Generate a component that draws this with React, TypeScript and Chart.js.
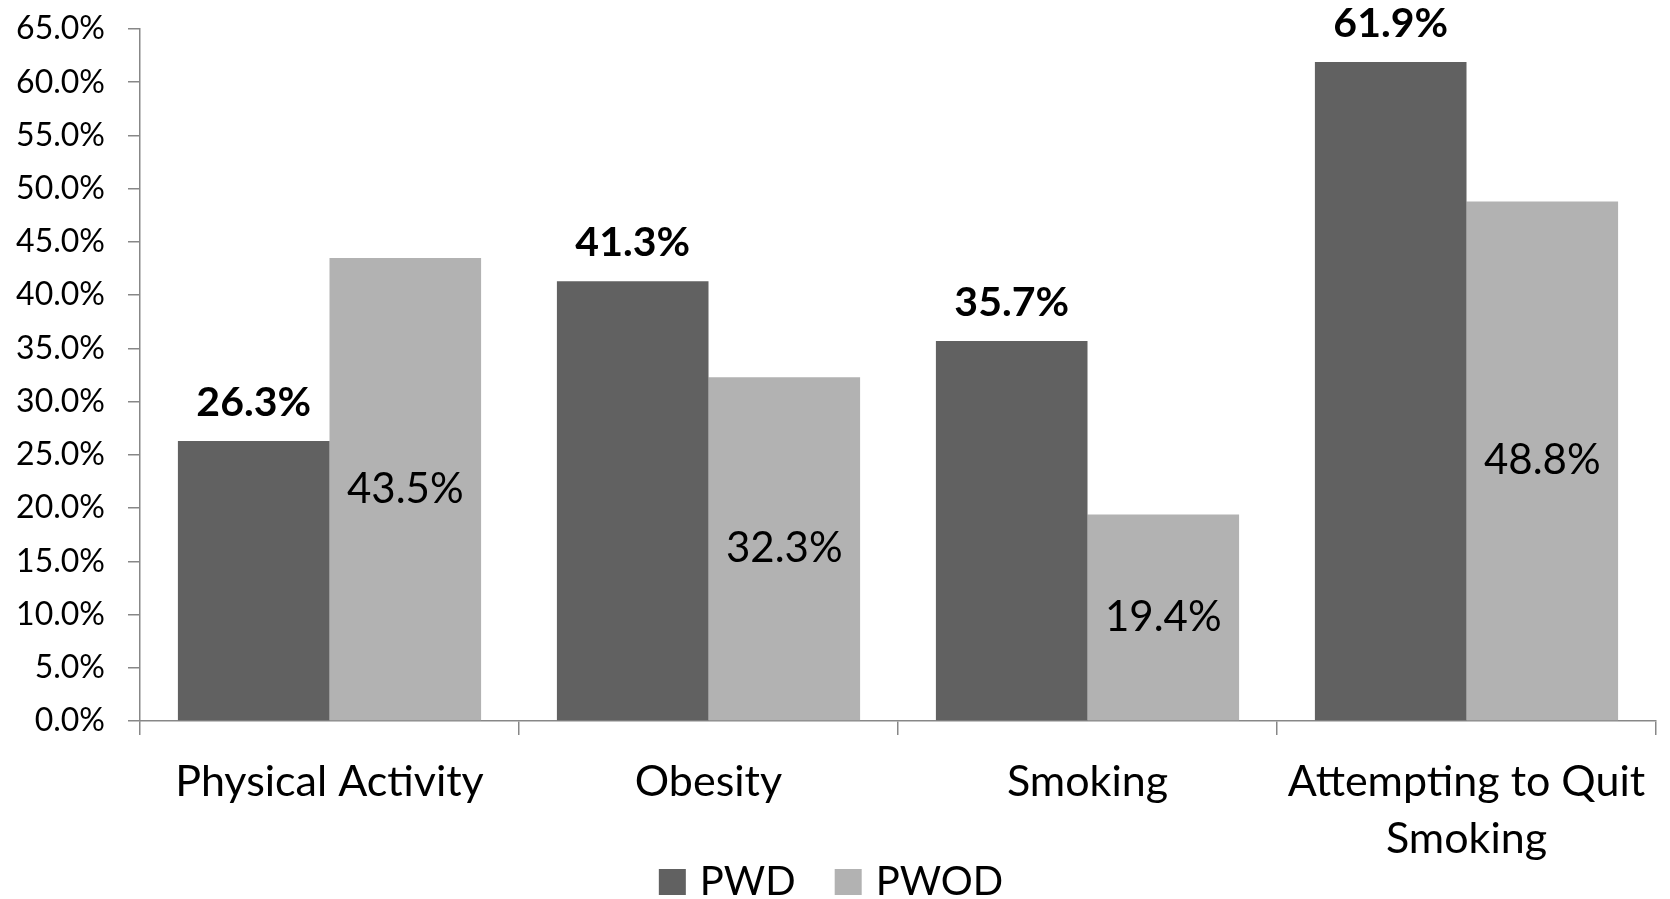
import React, { useEffect, useRef } from "react";
import { Chart, registerables } from "chart.js";

Chart.register(...registerables);

const categories: string[][] = [
  ["Physical Activity"],
  ["Obesity"],
  ["Smoking"],
  ["Attempting to Quit", "Smoking"],
];
const seriesNames = ["PWD", "PWOD"];
const pwdValues = [26.3, 41.3, 35.7, 61.9];
const pwodValues = [43.5, 32.3, 19.4, 48.8];
const seriesColors = ["#616161", "#b2b2b2"];
const yMin = 0;
const yMax = 65;
const yStep = 5;

const FONT = "Lato";
const AXIS_COLOR = "#878787";

// Value labels: dark series bold above the bar, light series centred inside it.
const valueLabels = {
  id: "valueLabels",
  afterDatasetsDraw(chart: any) {
    const ctx = chart.ctx;
    ctx.save();
    ctx.fillStyle = "#000";
    ctx.textAlign = "center";
    chart.data.datasets.forEach((ds: any, di: number) => {
      const meta = chart.getDatasetMeta(di);
      meta.data.forEach((bar: any, i: number) => {
        const text = Number(ds.data[i]).toFixed(1) + "%";
        if (di === 0) {
          ctx.font = `bold 41px ${FONT}`;
          ctx.textBaseline = "alphabetic";
          ctx.fillText(text, bar.x, bar.y - 25);
        } else {
          ctx.font = `42px ${FONT}`;
          ctx.textBaseline = "middle";
          ctx.fillText(text, bar.x, (bar.y + bar.base) / 2);
        }
      });
    });
    ctx.restore();
  },
};

// Compact legend centred under the category labels.
const bottomLegend = {
  id: "bottomLegend",
  afterDraw(chart: any) {
    const ctx = chart.ctx;
    const box = 26;
    const gap = 15;
    const itemGap = 39;
    ctx.save();
    ctx.font = `40px ${FONT}`;
    const items = chart.data.datasets.map((ds: any) => ({
      label: ds.label,
      color: ds.backgroundColor,
      w: ctx.measureText(ds.label).width,
    }));
    const total =
      items.reduce((s: number, it: any) => s + box + gap + it.w, 0) +
      itemGap * (items.length - 1);
    let x = chart.width / 2 - 4 - total / 2;
    const baseline = chart.height - 4;
    ctx.textBaseline = "alphabetic";
    ctx.textAlign = "left";
    items.forEach((it: any) => {
      ctx.fillStyle = it.color;
      ctx.fillRect(x, baseline - box, box + 1, box);
      x += box + gap;
      ctx.fillStyle = "#000";
      ctx.fillText(it.label, x, baseline);
      x += it.w + itemGap;
    });
    ctx.restore();
  },
};

export default function App() {
  const canvasRef = useRef<HTMLCanvasElement | null>(null);

  useEffect(() => {
    document.body.style.margin = "0";
    const canvas = canvasRef.current;
    if (!canvas) return;
    const chart = new Chart(canvas, {
      type: "bar",
      data: {
        labels: categories,
        datasets: [
          {
            label: seriesNames[0],
            data: pwdValues,
            backgroundColor: seriesColors[0],
            categoryPercentage: 0.8,
            barPercentage: 1.0,
          },
          {
            label: seriesNames[1],
            data: pwodValues,
            backgroundColor: seriesColors[1],
            categoryPercentage: 0.8,
            barPercentage: 1.0,
          },
        ],
      },
      options: {
        animation: false,
        responsive: false,
        maintainAspectRatio: false,
        layout: { padding: { top: 29, right: 14, left: 0, bottom: 0 } },
        plugins: {
          legend: { display: false },
          tooltip: { enabled: false },
        },
        scales: {
          x: {
            border: { color: AXIS_COLOR, width: 1.5 },
            grid: {
              offset: true,
              drawOnChartArea: false,
              drawTicks: true,
              tickLength: 14,
              color: AXIS_COLOR,
              lineWidth: 1.5,
            },
            ticks: {
              color: "#000",
              font: { family: FONT, size: 43, lineHeight: 1.34 },
              padding: 18,
              maxRotation: 0,
              autoSkip: false,
            },
            afterFit(scale: any) {
              scale.height = 178;
            },
          },
          y: {
            min: yMin,
            max: yMax,
            border: { color: AXIS_COLOR, width: 1.5 },
            grid: {
              drawOnChartArea: false,
              drawTicks: true,
              tickLength: 12,
              color: AXIS_COLOR,
              lineWidth: 1.5,
            },
            ticks: {
              stepSize: yStep,
              color: "#000",
              font: { family: FONT, size: 32 },
              padding: 23,
              callback: (v: any) => Number(v).toFixed(1) + "%",
            },
            afterFit(scale: any) {
              scale.width = 140;
              scale.paddingTop = 0;
              scale.paddingBottom = 0;
            },
          },
        },
      },
      plugins: [valueLabels, bottomLegend],
    });
    document.fonts && document.fonts.ready.then(() => chart.update());
    return () => chart.destroy();
  }, []);

  return (
    <div style={{ width: 1670, height: 899, background: "#fff" }}>
      <canvas ref={canvasRef} width={1670} height={899} style={{ display: "block" }} />
    </div>
  );
}
